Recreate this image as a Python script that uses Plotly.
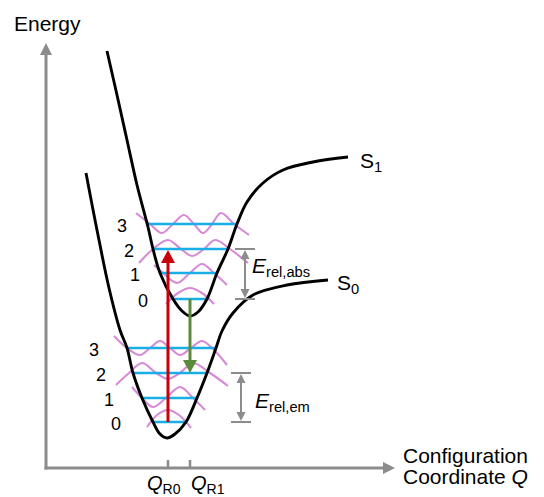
import plotly.graph_objects as go

W, H = 544, 497

# ---- data (configuration coordinate Q, energy E; picture units, E grows downward) ----
S1_Q = [107, 117, 127, 137, 148, 153, 160, 173, 182, 190, 198, 207, 217, 228, 237, 247, 263, 283, 313, 348]
S1_E = [51, 95, 140, 185, 227, 249, 273, 299, 311, 316, 312, 299, 273, 249, 224, 202, 183, 170, 162, 157]
S0_Q = [86, 97, 109, 120, 127, 133, 142, 153, 160, 167, 175, 186, 197, 207, 216, 222, 233, 253, 287, 328]
S0_E = [173, 230, 288, 330, 348, 373, 398, 422, 434, 438, 434, 422, 398, 373, 348, 331, 313, 295, 285, 280]

# vibrational levels (v = 0..3)
S1_LEVEL_E = [299, 273, 249, 224]
S1_LEVEL_QL = [173, 160, 153, 148]
S1_LEVEL_QR = [207, 217, 228, 237]
S0_LEVEL_E = [422, 398, 373, 348]
S0_LEVEL_QL = [153, 142, 133, 126]
S0_LEVEL_QR = [186, 197, 207, 216]
LEVEL_LABELS = ["0", "1", "2", "3"]
S1_LABEL_Q = [143, 135, 129, 122]
S0_LABEL_Q = [116, 109, 101, 94]

# vibrational wavefunctions
WAVES = [
    # S1
    ([166, 178, 190, 202, 214], [304, 293, 288, 293, 304]),
    ([154, 163, 177, 190, 202, 214, 227], [265, 273, 283, 273, 264, 273, 285]),
    ([139, 153, 168, 181, 192, 204, 215, 230, 248], [263, 249, 240, 249, 256, 249, 240, 249, 263]),
    ([136, 150, 162, 173, 184, 194, 203, 212, 221, 234, 249], [213, 224, 233, 224, 215, 224, 233, 224, 213, 224, 235]),
    # S0
    ([147, 157, 168, 179, 191], [427, 415, 410, 415, 428]),
    ([132, 142, 153, 166, 180, 193, 205], [387, 398, 407, 398, 387, 398, 410]),
    ([116, 129, 142, 156, 168, 180, 193, 210, 228], [385, 373, 363, 373, 379, 373, 363, 373, 386]),
    ([114, 127, 140, 150, 160, 170, 180, 191, 202, 214, 227], [336, 348, 355, 348, 341, 348, 355, 348, 341, 350, 365]),
]

# transitions
ABS_Q, ABS_E = 168, (422, 250)
EM_Q, EM_E = 190, (299, 373)
Q_R0, Q_R1 = 168, 190

# relaxation energies
REL_ABS_Q, REL_ABS_E = 245, (249, 299)
REL_EM_Q, REL_EM_E = 241, (373, 422)

# axes
ORIGIN = (46, 468)
E_AXIS_TOP = 43
Q_AXIS_END = 395

# ---- styles ----
BLACK = "#000000"
CYAN = "#1aaee8"
PINK = "#d68ad8"
RED = "#c8000a"
GREEN = "#5b8a3a"
GRAY = "#8c8c8c"
FONT = "Liberation Sans, Arial, Helvetica, sans-serif"

fig = go.Figure()


def line(xs, ys, color, width, shape="linear"):
    fig.add_trace(go.Scatter(x=xs, y=ys, mode="lines",
                             line=dict(color=color, width=width, shape=shape, smoothing=1.0),
                             hoverinfo="skip", showlegend=False))


def head(tx, ty, direction, length, half, color):
    # filled triangle arrowhead with tip at (tx,ty)
    dx, dy = {"up": (0, 1), "down": (0, -1), "right": (-1, 0), "left": (1, 0)}[direction]
    bx, by = tx + dx * length, ty + dy * length
    px, py = -dy, dx
    xs = [tx, bx + px * half, bx - px * half, tx]
    ys = [ty, by + py * half, by - py * half, ty]
    fig.add_trace(go.Scatter(x=xs, y=ys, mode="lines", fill="toself", fillcolor=color,
                             line=dict(width=0, color=color), hoverinfo="skip", showlegend=False))


# wavefunctions
for wx, wy in WAVES:
    line(wx, wy, PINK, 2.1, "spline")

# levels
for e, ql, qr in zip(S1_LEVEL_E, S1_LEVEL_QL, S1_LEVEL_QR):
    line([ql, qr], [e, e], CYAN, 2.4)
for e, ql, qr in zip(S0_LEVEL_E, S0_LEVEL_QL, S0_LEVEL_QR):
    line([ql, qr], [e, e], CYAN, 2.4)

# potential curves
line(S1_Q, S1_E, BLACK, 2.9, "spline")
line(S0_Q, S0_E, BLACK, 2.9, "spline")

# axes
ox, oy = ORIGIN
line([ox, ox], [oy + 1.5, E_AXIS_TOP + 10], GRAY, 3)
line([ox - 1.5, Q_AXIS_END - 10], [oy, oy], GRAY, 3)
head(ox, E_AXIS_TOP, "up", 12, 6, GRAY)
head(Q_AXIS_END, oy, "right", 12, 6, GRAY)
for q in (Q_R0, Q_R1):
    line([q, q], [oy - 8, oy], GRAY, 2.5)

# absorption (red) and emission (green)
line([ABS_Q, ABS_Q], [ABS_E[0], ABS_E[1] + 10], RED, 3)
head(ABS_Q, ABS_E[1], "up", 13, 7, RED)
line([EM_Q, EM_Q], [EM_E[0], EM_E[1] - 10], GREEN, 3)
head(EM_Q, EM_E[1], "down", 13, 7, GREEN)

# relaxation brackets
for q, (e1, e2) in ((REL_ABS_Q, REL_ABS_E), (REL_EM_Q, REL_EM_E)):
    line([q - 10, q + 10], [e1, e1], GRAY, 2)
    line([q - 10, q + 10], [e2, e2], GRAY, 2)
    line([q, q], [e1 + 6, e2 - 6], GRAY, 2)
    head(q, e1 + 1, "up", 9, 4.5, GRAY)
    head(q, e2 - 1, "down", 9, 4.5, GRAY)

# ---- text ----
ann = []


def text(x, y, t, size, xanchor="center", yanchor="middle"):
    ann.append(dict(x=x, y=y, text=t, showarrow=False, xanchor=xanchor, yanchor=yanchor,
                    font=dict(family=FONT, size=size, color=BLACK)))


text(47, 23, "Energy", 21)
text(401, 455, "Configuration", 21, xanchor="left")
text(401, 476, "Coordinate <i>Q</i>", 21, xanchor="left")
text(145, 484, "<i>Q</i><sub>R0</sub>", 20, xanchor="left")
text(189, 484, "<i>Q</i><sub>R1</sub>", 20, xanchor="left")
text(358, 162, "S<sub>1</sub>", 21, xanchor="left")
text(335, 284, "S<sub>0</sub>", 21, xanchor="left")
text(250, 267, "<i>E</i><sub>rel,abs</sub>", 21, xanchor="left")
text(253, 402, "<i>E</i><sub>rel,em</sub>", 21, xanchor="left")
for lab, q, e in zip(LEVEL_LABELS, S1_LABEL_Q, S1_LEVEL_E):
    text(q, e + 2, lab, 18)
for lab, q, e in zip(LEVEL_LABELS, S0_LABEL_Q, S0_LEVEL_E):
    text(q, e + 2, lab, 18)

fig.update_layout(
    width=W, height=H, margin=dict(l=0, r=0, t=0, b=0),
    paper_bgcolor="white", plot_bgcolor="white",
    xaxis=dict(range=[0, W], visible=False, fixedrange=True),
    yaxis=dict(range=[H, 0], visible=False, fixedrange=True),
    annotations=ann, showlegend=False,
)

fig.write_html("out.html", config={"displayModeBar": False},
               post_script="document.body.style.margin='0';document.body.style.overflow='hidden';")
